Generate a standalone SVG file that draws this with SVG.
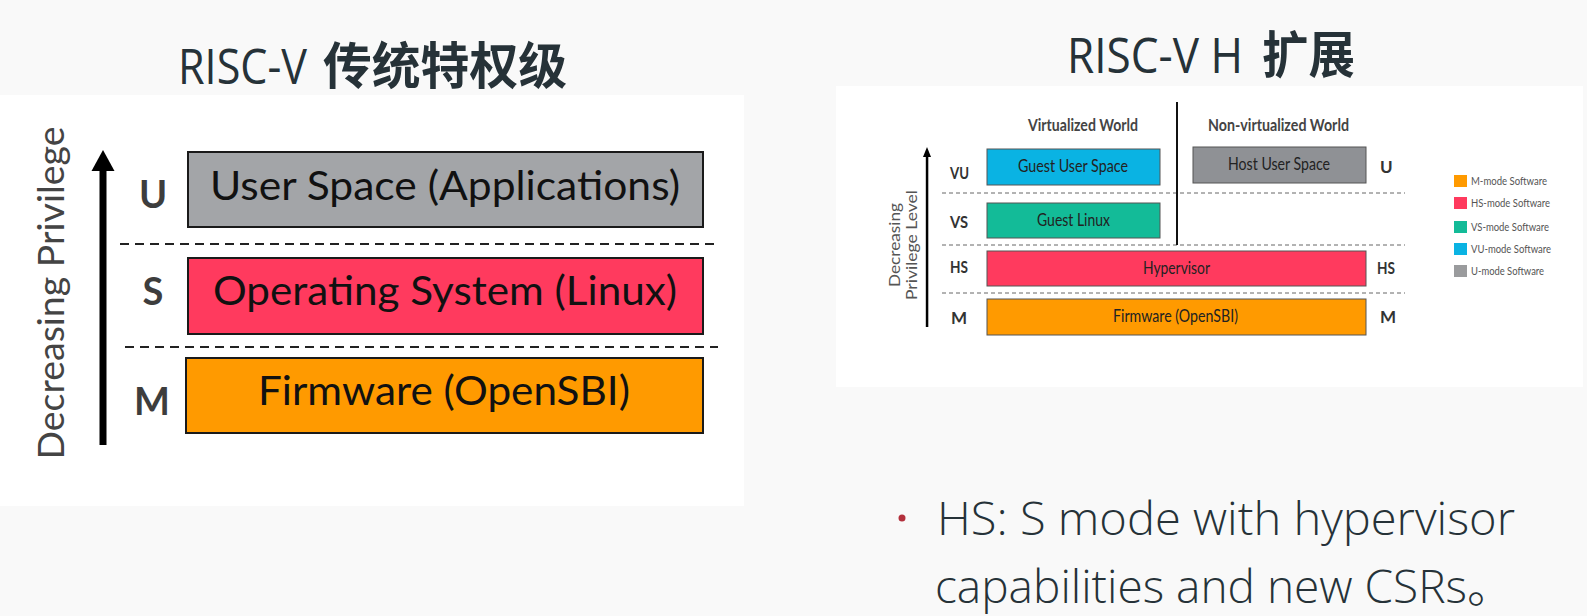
<svg xmlns="http://www.w3.org/2000/svg" width="1587" height="616" viewBox="0 0 1587 616">
  <style>
    .title-lat { font-family: "Open Sans", "Noto Sans", sans-serif; font-weight: 400; font-size: 50px; fill: #263238; }
    .title-cjk { font-family: "Noto Sans CJK SC", sans-serif; font-weight: 700; font-size: 50px; fill: #263238; }
    .bullet { font-family: "Open Sans", "Noto Sans", "Noto Sans CJK SC", sans-serif; font-weight: 300; font-size: 46px; fill: #263238; }
    .big-box { stroke: #1a1a1a; stroke-width: 2; }
    .big-txt { font-family: Lato, "Open Sans", sans-serif; font-size: 40px; fill: #111; }
    .big-lvl { font-family: Lato, "Open Sans", sans-serif; font-weight: 700; font-size: 38px; fill: #3d3d3d; text-anchor: middle; }
    .big-dash { stroke: #222; stroke-width: 2; stroke-dasharray: 9 6; fill: none; }
    .sm-box { stroke: #555; stroke-width: 1; }
    .sm-txt { font-family: Lato, "Open Sans", sans-serif; font-size: 17px; fill: #222; }
    .sm-lvl { font-family: Lato, "Open Sans", sans-serif; font-weight: 700; font-size: 17px; fill: #333; }
    .sm-head { font-family: Lato, "Open Sans", sans-serif; font-weight: 700; font-size: 17px; fill: #444; }
    .sm-dash { stroke: #666; stroke-width: 1; stroke-dasharray: 4 3; fill: none; }
    .legend { font-family: Lato, "Open Sans", sans-serif; font-size: 12px; fill: #555; }
    .c-u { fill: #a3a5a8; }
    .c-host { fill: #8f9195; }
    .c-s { fill: #ff3a5e; }
    .c-m { fill: #ff9a00; }
    .c-vu { fill: #0ab3e3; }
    .c-vs { fill: #13bb98; }
  </style>

  <!-- page background and the two figure panels -->
  <rect x="0" y="0" width="1587" height="616" fill="#f9f9f9"/>
  <rect x="0" y="95" width="744" height="411" fill="#ffffff"/>
  <rect x="836" y="86" width="747" height="301" fill="#ffffff"/>

  <!-- headings -->
  <g id="title-left">
    <text class="title-lat" x="178" y="84" textLength="129" lengthAdjust="spacingAndGlyphs">RISC-V</text>
    <text class="title-cjk" x="323" y="84" textLength="244" lengthAdjust="spacingAndGlyphs">传统特权级</text>
  </g>
  <g id="title-right">
    <text class="title-lat" x="1067" y="73" textLength="176" lengthAdjust="spacingAndGlyphs">RISC-V H</text>
    <text class="title-cjk" x="1262" y="73" textLength="93" lengthAdjust="spacingAndGlyphs">扩展</text>
  </g>

  <!-- classic privilege levels -->
  <g id="classic-axis">
    <text font-family="Lato, 'Open Sans', sans-serif" font-size="36" fill="#444" text-anchor="middle" transform="translate(64,293) rotate(-90)" textLength="333" lengthAdjust="spacingAndGlyphs">Decreasing Privilege</text>
    <rect x="99.5" y="166" width="7" height="279" fill="#000"/>
    <polygon points="91.5,171 103,150 114.5,171" fill="#000"/>
  </g>
  <g id="classic-levels">
    <text class="big-lvl" x="153" y="208">U</text>
    <text class="big-lvl" x="153" y="305">S</text>
    <text class="big-lvl" x="152" y="415">M</text>
  </g>
  <g id="classic-dividers">
    <line class="big-dash" x1="120" y1="244" x2="717" y2="244"/>
    <line class="big-dash" x1="125" y1="347" x2="718" y2="347"/>
  </g>
  <g id="node-user-space">
    <rect class="big-box c-u" x="188" y="152" width="515" height="75"/>
    <text class="big-txt" x="210" y="200" textLength="470" lengthAdjust="spacingAndGlyphs">User Space (Applications)</text>
  </g>
  <g id="node-os">
    <rect class="big-box c-s" x="188" y="258" width="515" height="76"/>
    <text class="big-txt" x="213" y="305" textLength="464" lengthAdjust="spacingAndGlyphs">Operating System (Linux)</text>
  </g>
  <g id="node-firmware">
    <rect class="big-box c-m" x="186" y="358" width="517" height="75"/>
    <text class="big-txt" x="258" y="405" textLength="372" lengthAdjust="spacingAndGlyphs">Firmware (OpenSBI)</text>
  </g>

  <!-- H extension privilege levels -->
  <g id="h-axis">
    <text font-family="Lato, 'Open Sans', sans-serif" font-size="15" fill="#555" text-anchor="middle" transform="translate(900,245) rotate(-90)" textLength="84" lengthAdjust="spacingAndGlyphs">Decreasing</text>
    <text font-family="Lato, 'Open Sans', sans-serif" font-size="15" fill="#555" text-anchor="middle" transform="translate(917,245) rotate(-90)" textLength="110" lengthAdjust="spacingAndGlyphs">Privilege Level</text>
    <rect x="925.8" y="155" width="2.5" height="172" fill="#000"/>
    <polygon points="923,157 927,147 931,157" fill="#000"/>
  </g>
  <g id="h-headers">
    <text class="sm-head" x="1028" y="131" textLength="110" lengthAdjust="spacingAndGlyphs">Virtualized World</text>
    <text class="sm-head" x="1208" y="131" textLength="141" lengthAdjust="spacingAndGlyphs">Non-virtualized World</text>
  </g>
  <g id="h-levels">
    <text class="sm-lvl" x="950" y="179" textLength="19" lengthAdjust="spacingAndGlyphs">VU</text>
    <text class="sm-lvl" x="950" y="228" textLength="18" lengthAdjust="spacingAndGlyphs">VS</text>
    <text class="sm-lvl" x="950" y="273" textLength="18" lengthAdjust="spacingAndGlyphs">HS</text>
    <text class="sm-lvl" x="951" y="324">M</text>
    <text class="sm-lvl" x="1380" y="173">U</text>
    <text class="sm-lvl" x="1377" y="274" textLength="18" lengthAdjust="spacingAndGlyphs">HS</text>
    <text class="sm-lvl" x="1380" y="323">M</text>
  </g>
  <g id="h-dividers">
    <line class="sm-dash" x1="942" y1="193" x2="1405" y2="193"/>
    <line class="sm-dash" x1="942" y1="245" x2="1405" y2="245"/>
    <line class="sm-dash" x1="942" y1="293" x2="1405" y2="293"/>
    <line x1="1177" y1="102" x2="1177" y2="245" stroke="#111" stroke-width="2"/>
  </g>
  <g id="node-guest-user">
    <rect class="sm-box c-vu" x="987" y="149" width="173" height="36"/>
    <text class="sm-txt" x="1018" y="172" textLength="110" lengthAdjust="spacingAndGlyphs">Guest User Space</text>
  </g>
  <g id="node-guest-linux">
    <rect class="sm-box c-vs" x="987" y="203" width="173" height="35"/>
    <text class="sm-txt" x="1037" y="226" textLength="73" lengthAdjust="spacingAndGlyphs">Guest Linux</text>
  </g>
  <g id="node-host-user">
    <rect class="sm-box c-host" x="1193" y="147" width="173" height="36"/>
    <text class="sm-txt" x="1228" y="170" textLength="102" lengthAdjust="spacingAndGlyphs">Host User Space</text>
  </g>
  <g id="node-hypervisor">
    <rect class="sm-box c-s" x="987" y="251" width="379" height="35"/>
    <text class="sm-txt" x="1143" y="274" textLength="67" lengthAdjust="spacingAndGlyphs">Hypervisor</text>
  </g>
  <g id="node-h-firmware">
    <rect class="sm-box c-m" x="987" y="299" width="379" height="36"/>
    <text class="sm-txt" x="1113" y="322" textLength="125" lengthAdjust="spacingAndGlyphs">Firmware (OpenSBI)</text>
  </g>

  <!-- colour key -->
  <g id="legend">
    <rect x="1454" y="175" width="13" height="12" fill="#ff9a00"/>
    <text class="legend" x="1471" y="185" textLength="76" lengthAdjust="spacingAndGlyphs">M-mode Software</text>
    <rect x="1454" y="197" width="13" height="12" fill="#ff3a5e"/>
    <text class="legend" x="1471" y="207" textLength="79" lengthAdjust="spacingAndGlyphs">HS-mode Software</text>
    <rect x="1454" y="221" width="13" height="12" fill="#13bb98"/>
    <text class="legend" x="1471" y="231" textLength="78" lengthAdjust="spacingAndGlyphs">VS-mode Software</text>
    <rect x="1454" y="243" width="13" height="12" fill="#0ab3e3"/>
    <text class="legend" x="1471" y="253" textLength="80" lengthAdjust="spacingAndGlyphs">VU-mode Software</text>
    <rect x="1454" y="265" width="13" height="12" fill="#9a9b9d"/>
    <text class="legend" x="1471" y="275" textLength="73" lengthAdjust="spacingAndGlyphs">U-mode Software</text>
  </g>

  <!-- note under the H extension figure -->
  <g id="note">
    <circle cx="902" cy="518" r="3.5" fill="#b3303c"/>
    <text class="bullet" x="937" y="535" textLength="578" lengthAdjust="spacingAndGlyphs">HS: S mode with hypervisor</text>
    <text class="bullet" x="935" y="603" textLength="578" lengthAdjust="spacingAndGlyphs">capabilities and new CSRs。</text>
  </g>
</svg>
